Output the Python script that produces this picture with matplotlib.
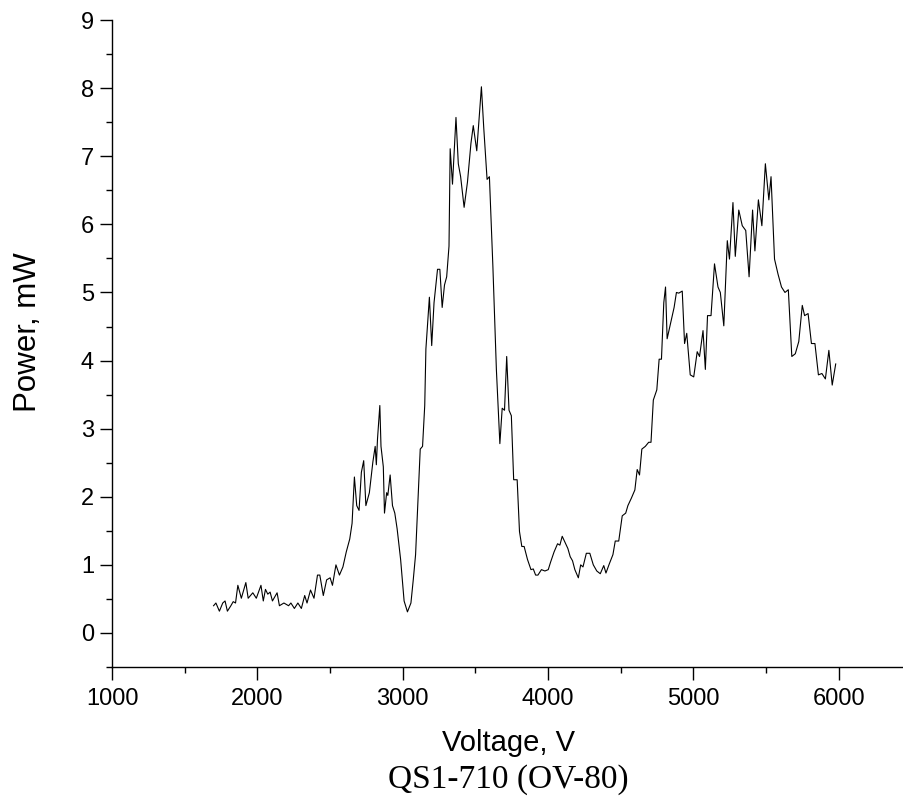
import matplotlib
matplotlib.use("Agg")
import matplotlib.pyplot as plt
from matplotlib.ticker import MultipleLocator

voltage = [1699, 1715, 1739, 1762, 1778, 1794, 1818, 1834, 1850, 1866, 1890, 1921, 1937, 1969,
           1993, 2025, 2041, 2056, 2072, 2088, 2104, 2136, 2152, 2183, 2215, 2231, 2255, 2279,
           2303, 2326, 2342, 2366, 2390, 2414, 2430, 2454, 2477, 2501, 2517, 2541, 2565, 2589,
           2612, 2636, 2652, 2668, 2684, 2700, 2716, 2732, 2747, 2771, 2795, 2811, 2819, 2827,
           2843, 2851, 2867, 2875, 2890, 2898, 2914, 2930, 2946, 2962, 2986, 3010, 3033, 3057,
           3073, 3089, 3105, 3121, 3137, 3152, 3160, 3184, 3200, 3216, 3240, 3256, 3272, 3288,
           3303, 3319, 3327, 3343, 3367, 3383, 3399, 3423, 3446, 3470, 3486, 3510, 3542, 3558,
           3581, 3597, 3621, 3645, 3669, 3685, 3701, 3716, 3732, 3748, 3764, 3788, 3804, 3820,
           3836, 3859, 3883, 3899, 3915, 3931, 3955, 3979, 4002, 4018, 4042, 4066, 4082, 4098,
           4122, 4137, 4153, 4169, 4185, 4209, 4225, 4241, 4264, 4288, 4312, 4336, 4360, 4384,
           4399, 4423, 4447, 4463, 4487, 4511, 4535, 4550, 4574, 4598, 4614, 4630, 4646, 4670,
           4693, 4709, 4725, 4749, 4765, 4781, 4797, 4809, 4820, 4844, 4868, 4884, 4900, 4924,
           4940, 4955, 4979, 5003, 5027, 5043, 5067, 5083, 5098, 5122, 5146, 5170, 5186, 5210,
           5234, 5249, 5273, 5289, 5313, 5337, 5361, 5384, 5408, 5424, 5448, 5472, 5496, 5520,
           5535, 5559, 5583, 5607, 5631, 5654, 5678, 5702, 5726, 5750, 5766, 5790, 5813, 5837,
           5861, 5885, 5909, 5933, 5956, 5980]
power = [0.40, 0.44, 0.32, 0.44, 0.47, 0.32, 0.40, 0.46, 0.44, 0.70, 0.51, 0.74, 0.51, 0.59,
         0.51, 0.70, 0.47, 0.64, 0.57, 0.60, 0.47, 0.59, 0.40, 0.44, 0.40, 0.44, 0.36, 0.44,
         0.36, 0.55, 0.44, 0.63, 0.51, 0.85, 0.85, 0.55, 0.78, 0.81, 0.70, 1.00, 0.85, 0.97,
         1.19, 1.38, 1.61, 2.29, 1.87, 1.80, 2.36, 2.53, 1.87, 2.06, 2.51, 2.74, 2.47, 2.85,
         3.34, 2.74, 2.44, 1.76, 2.06, 2.02, 2.32, 1.87, 1.76, 1.53, 1.08, 0.47, 0.31, 0.44,
         0.78, 1.15, 1.91, 2.70, 2.74, 3.34, 4.17, 4.93, 4.22, 4.85, 5.34, 5.34, 4.78, 5.11,
         5.23, 5.68, 7.11, 6.59, 7.57, 6.89, 6.70, 6.25, 6.62, 7.19, 7.45, 7.08, 8.02, 7.42,
         6.66, 6.70, 5.38, 3.87, 2.78, 3.30, 3.27, 4.06, 3.27, 3.19, 2.25, 2.25, 1.49, 1.27,
         1.27, 1.08, 0.93, 0.94, 0.85, 0.85, 0.93, 0.91, 0.93, 1.04, 1.19, 1.31, 1.29, 1.42,
         1.31, 1.24, 1.12, 1.06, 0.93, 0.81, 1.00, 0.97, 1.17, 1.17, 1.00, 0.91, 0.87, 0.99,
         0.88, 1.02, 1.15, 1.35, 1.35, 1.72, 1.76, 1.87, 1.98, 2.10, 2.40, 2.32, 2.70, 2.74,
         2.80, 2.80, 3.42, 3.57, 4.02, 4.02, 4.85, 5.08, 4.32, 4.55, 4.78, 5.00, 4.99, 5.02,
         4.25, 4.40, 3.79, 3.76, 4.13, 4.06, 4.44, 3.87, 4.66, 4.66, 5.42, 5.08, 5.00, 4.51,
         5.76, 5.49, 6.32, 5.53, 6.21, 5.98, 5.91, 5.23, 6.21, 5.61, 6.36, 5.98, 6.89, 6.36,
         6.70, 5.49, 5.27, 5.08, 5.00, 5.04, 4.06, 4.10, 4.28, 4.81, 4.66, 4.69, 4.25, 4.25,
         3.79, 3.81, 3.73, 4.15, 3.64, 3.95]

plt.rcParams["font.family"] = ["Liberation Sans", "DejaVu Sans"]

fig = plt.figure(figsize=(9.04, 8.05), dpi=100)
ax = fig.add_axes([0.1239, 0.1714, 0.8761, 0.8037])

ax.plot(voltage, power, color="black", linewidth=0.8)

ax.set_xlim(1000, 6450)
ax.set_ylim(-0.5, 9)
ax.xaxis.set_major_locator(MultipleLocator(1000))
ax.xaxis.set_minor_locator(MultipleLocator(500))
ax.yaxis.set_major_locator(MultipleLocator(1))
ax.yaxis.set_minor_locator(MultipleLocator(0.5))
ax.tick_params(which="major", direction="out", length=9, width=1.0, labelsize=17)
ax.tick_params(axis="y", which="major", pad=4)
ax.tick_params(axis="x", which="major", pad=6)
ax.tick_params(which="minor", direction="out", length=4.5, width=1.0)

ax.spines["top"].set_visible(False)
ax.spines["right"].set_visible(False)
ax.spines["left"].set_linewidth(1.0)
ax.spines["bottom"].set_linewidth(1.0)

ax.set_xlabel("Voltage, V", fontsize=21, labelpad=14)
ax.set_ylabel("Power, mW", fontsize=22.5)
ax.yaxis.set_label_coords(-0.087, 0.518)

fig.text(0.5 * (0.1239 + 1.0), 17 / 805, "QS1-710 (OV-80)", family="Liberation Serif",
         fontsize=24, ha="center", va="baseline")

fig.savefig("out.png", dpi=100)
